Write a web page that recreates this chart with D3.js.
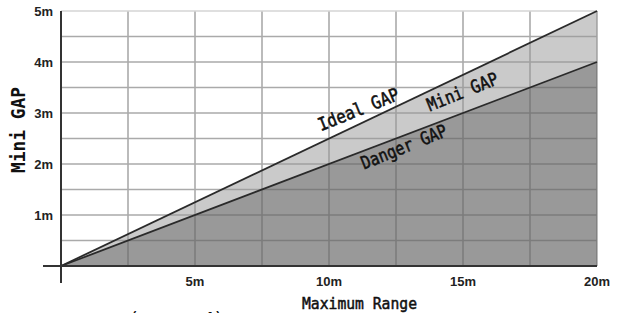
<!DOCTYPE html>
<html><head><meta charset="utf-8">
<script src="https://cdn.jsdelivr.net/npm/d3@7"></script>
<style>html,body{margin:0;padding:0;background:#fff;overflow:hidden}</style>
</head><body>
<svg id="c" width="623" height="313"></svg>
<script>
// Data
const ranges = [0, 20];          // Maximum Range (m)
const idealGap = [0, 5];         // Ideal GAP (m)
const dangerGap = [0, 4];        // Danger GAP (m)
const xTickValues = [5, 10, 15, 20];
const xTickLabels = ["5m", "10m", "15m", "20m"];
const yTickValues = [1, 2, 3, 4, 5];
const yTickLabels = ["1m", "2m", "3m", "4m", "5m"];
const xGrid = [2.5, 5, 7.5, 10, 12.5, 15, 17.5, 20];
const yGrid = [0.5, 1, 1.5, 2, 2.5, 3, 3.5, 4, 4.5];
const lineLabels = [
  {text: "Ideal GAP", x: 9.7, y: 2.64, len: 86},
  {text: "Mini GAP", x: 13.77, y: 3.03, len: 75},
  {text: "Danger GAP", x: 11.31, y: 1.89, len: 91}
];

const svg = d3.select("#c");
const x = d3.scaleLinear().domain([0, 20]).range([61, 597]);
const y = d3.scaleLinear().domain([0, 5]).range([266, 11]);

const pts = ranges.map((r, i) => ({r, ideal: idealGap[i], danger: dangerGap[i]}));

// gridlines (under the semi-transparent fills)
const g = svg.append("g");
g.selectAll("line.v").data(xGrid).join("line")
  .attr("x1", d => x(d)).attr("x2", d => x(d))
  .attr("y1", y(0)).attr("y2", y(5))
  .attr("stroke", "#aaa").attr("stroke-width", 1.6);
g.selectAll("line.h").data(yGrid).join("line")
  .attr("x1", x(0)).attr("x2", x(20))
  .attr("y1", d => y(d)).attr("y2", d => y(d))
  .attr("stroke", "#aaa").attr("stroke-width", 1.6);
g.append("line").attr("x1", x(0)).attr("x2", x(20))
  .attr("y1", y(5)).attr("y2", y(5))
  .attr("stroke", "#d4d4d4").attr("stroke-width", 1.4);

// fills
svg.append("path").datum(pts)
  .attr("d", d3.area().x(d => x(d.r)).y0(d => y(d.danger)).y1(d => y(d.ideal)))
  .attr("fill", "rgb(150,150,150)").attr("fill-opacity", 0.5);
svg.append("path").datum(pts)
  .attr("d", d3.area().x(d => x(d.r)).y0(y(0)).y1(d => y(d.danger)))
  .attr("fill", "rgb(100,100,100)").attr("fill-opacity", 0.66);

// lines
const ln = d3.line().x(d => x(d[0])).y(d => y(d[1]));
svg.append("path").attr("d", ln(ranges.map((r, i) => [r, idealGap[i]])))
  .attr("fill", "none").attr("stroke", "#2a2a2a").attr("stroke-width", 1.8);
svg.append("path").attr("d", ln(ranges.map((r, i) => [r, dangerGap[i]])))
  .attr("fill", "none").attr("stroke", "#2a2a2a").attr("stroke-width", 1.8);

// axes lines
svg.append("line").attr("x1", 43).attr("x2", x(20)).attr("y1", y(0)).attr("y2", y(0))
  .attr("stroke", "#333").attr("stroke-width", 2);
svg.append("line").attr("x1", x(0)).attr("x2", x(0)).attr("y1", y(5)).attr("y2", 283)
  .attr("stroke", "#333").attr("stroke-width", 2);

// tick labels
svg.selectAll("text.xt").data(xTickValues).join("text")
  .attr("x", d => x(d)).attr("y", 286).attr("text-anchor", "middle")
  .attr("font-family", "Liberation Sans, Arial, sans-serif").attr("font-weight", "bold")
  .attr("font-size", 13).attr("fill", "#222").text((d, i) => xTickLabels[i]);
svg.selectAll("text.yt").data(yTickValues).join("text")
  .attr("x", 53).attr("y", d => y(d)).attr("dy", "0.35em").attr("text-anchor", "end")
  .attr("font-family", "Liberation Sans, Arial, sans-serif").attr("font-weight", "bold")
  .attr("font-size", 13).attr("fill", "#222").text((d, i) => yTickLabels[i]);

// axis titles
svg.append("text").attr("x", 302).attr("y", 309)
  .attr("font-family", "DejaVu Sans Mono, monospace").attr("font-size", 16)
  .attr("textLength", 115).attr("lengthAdjust", "spacingAndGlyphs")
  .attr("fill", "#111").attr("stroke", "#111").attr("stroke-width", 0.5).text("Maximum Range");
svg.append("text").attr("transform", "translate(25,173) rotate(-90)")
  .attr("font-family", "DejaVu Sans Mono, monospace").attr("font-weight", "bold").attr("font-size", 20)
  .attr("textLength", 86).attr("lengthAdjust", "spacingAndGlyphs")
  .attr("fill", "#111").text("Mini GAP");

// line labels
svg.selectAll("text.ll").data(lineLabels).join("text")
  .attr("transform", d => `translate(${x(d.x)},${y(d.y)}) rotate(-22)`)
  .attr("font-family", "DejaVu Sans Mono, monospace").attr("font-size", 18)
  .attr("textLength", d => d.len).attr("lengthAdjust", "spacingAndGlyphs")
  .attr("fill", "#111").attr("stroke", "#111").attr("stroke-width", 0.55).text(d => d.text);

// cut-off caption at bottom
svg.append("text").attr("x", 130).attr("y", 326)
  .attr("font-family", "DejaVu Sans, sans-serif").attr("font-size", 20).attr("fill", "#111").text("(");
svg.append("text").attr("x", 202).attr("y", 326)
  .attr("font-family", "DejaVu Sans, sans-serif").attr("font-size", 20).attr("fill", "#111").text("4)");
</script>
</body></html>
